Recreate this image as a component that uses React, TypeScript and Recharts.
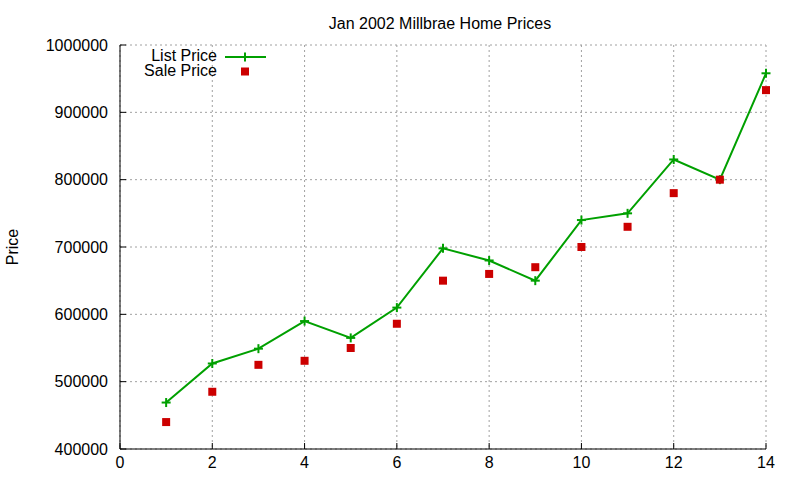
import { LineChart, Line, XAxis, YAxis, CartesianGrid } from "recharts";

const months = [1, 2, 3, 4, 5, 6, 7, 8, 9, 10, 11, 12, 13, 14];
const listPrice = [469000, 527000, 549000, 590000, 565000, 610000, 698000, 680000, 650000, 740000, 750000, 830000, 800000, 958000];
const salePrice = [440000, 485000, 525000, 531000, 550000, 586000, 650000, 660000, 670000, 700000, 730000, 780000, 800000, 933000];
const xTicks = [0, 2, 4, 6, 8, 10, 12, 14];
const yTicks = [400000, 500000, 600000, 700000, 800000, 900000, 1000000];

const data = months.map((m, i) => ({ x: m, list: listPrice[i], sale: salePrice[i] }));

const FONT = '"Liberation Sans", Arial, sans-serif';
const GREEN = "#00a000";
const RED = "#cc0000";

function PlusDot(props: any) {
  const { cx, cy } = props;
  if (cx == null || cy == null) return null;
  return (
    <g>
      <line x1={cx - 4.5} x2={cx + 4.5} y1={cy} y2={cy} stroke={GREEN} strokeWidth={2} />
      <line x1={cx} x2={cx} y1={cy - 4.5} y2={cy + 4.5} stroke={GREEN} strokeWidth={2} />
    </g>
  );
}

function SquareDot(props: any) {
  const { cx, cy } = props;
  if (cx == null || cy == null) return null;
  return <rect x={cx - 4} y={cy - 4} width={8} height={8} fill={RED} />;
}

const tickStyle = { fontSize: 16, fill: "#000", fontFamily: FONT };

export default function App() {
  return (
    <div style={{ position: "absolute", left: 0, top: 0, width: 800, height: 480, background: "#fff" }}>
      <LineChart width={800} height={480} data={data} margin={{ top: 45, right: 34, left: 0, bottom: 0 }}>
        <CartesianGrid stroke="#a0a0a0" strokeDasharray="2 3" />
        <XAxis
          dataKey="x"
          type="number"
          domain={[0, 14]}
          ticks={xTicks}
          height={31}
          tickSize={-6}
          tickMargin={14}
          tick={tickStyle}
          stroke="#000"
          tickLine={{ stroke: "#000" }}
        />
        <XAxis
          xAxisId="top"
          orientation="top"
          type="number"
          domain={[0, 14]}
          ticks={xTicks}
          height={0}
          tickSize={-6}
          tick={false}
          stroke="#000"
        />
        <YAxis
          type="number"
          domain={[400000, 1000000]}
          ticks={yTicks}
          width={120}
          tickSize={-6}
          tickMargin={18}
          tick={tickStyle}
          stroke="#000"
          interval={0}
        />
        <YAxis
          yAxisId="right"
          orientation="right"
          type="number"
          domain={[400000, 1000000]}
          ticks={yTicks}
          width={0}
          tickSize={-6}
          tick={false}
          stroke="#000"
        />
        <Line dataKey="list" stroke={GREEN} strokeWidth={2} dot={<PlusDot />} isAnimationActive={false} />
        <Line dataKey="sale" stroke="none" dot={<SquareDot />} activeDot={false} isAnimationActive={false} />
      </LineChart>
      <svg
        width={800}
        height={480}
        style={{ position: "absolute", left: 0, top: 0, pointerEvents: "none" }}
        fontFamily={FONT}
        fontSize={16}
      >
        <text x={440} y={29} textAnchor="middle">Jan 2002 Millbrae Home Prices</text>
        <text x={18} y={247} textAnchor="middle" transform="rotate(-90 18 247)">Price</text>
        <text x={217} y={61} textAnchor="end">List Price</text>
        <line x1={225} x2={266} y1={57} y2={57} stroke={GREEN} strokeWidth={2} />
        <line x1={245} x2={245} y1={52.5} y2={61.5} stroke={GREEN} strokeWidth={2} />
        <text x={217} y={76} textAnchor="end">Sale Price</text>
        <rect x={241} y={67.5} width={8} height={8} fill={RED} />
      </svg>
    </div>
  );
}
